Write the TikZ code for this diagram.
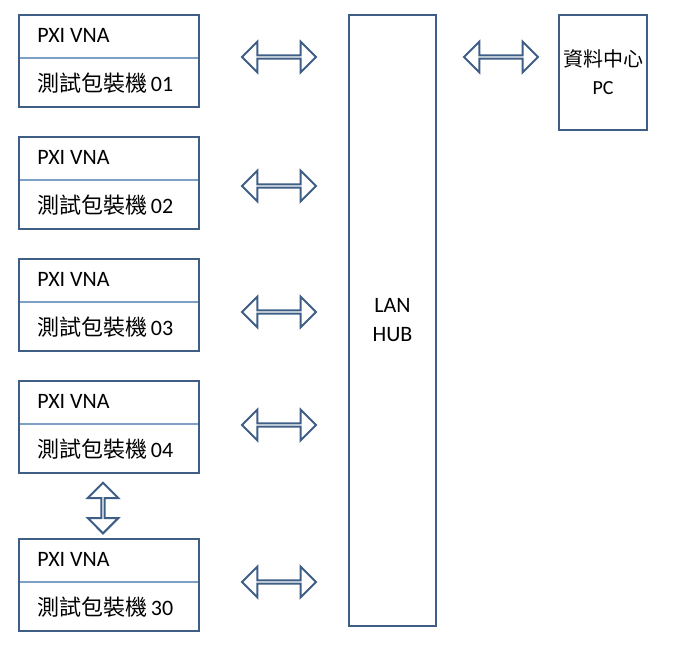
\documentclass[tikz,border=0pt]{standalone}
\usepackage{fontspec}
\setmainfont{Carlito}
\newfontfamily\cjk{Noto Sans CJK TC}
\usetikzlibrary{shapes.arrows}
\definecolor{bd}{HTML}{3E5E86}
\definecolor{dv}{HTML}{7EA0C8}
\begin{document}
\begin{tikzpicture}[x=0.75pt,y=-0.75pt,
  box/.style={draw=bd,line width=1.6pt,fill=white},
  lbl/.style={anchor=west,font=\fontsize{16.5}{18}\selectfont,inner sep=0},
  dar/.style={double arrow,draw=bd,line width=1.5pt,fill=white,inner sep=0,
    minimum height=55.5pt,minimum width=23pt,double arrow head extend=6.5pt,double arrow head indent=0pt}]
\useasboundingbox (0,0) rectangle (690,653);
\foreach \t/\n/\k in {15/01/a,137/02/b,259/03/c,381/04/d,539/30/e}{
  \draw[box] (19,\t) rectangle (199,\t+92);
  \draw[dv,line width=0.8pt] (20,\t+43) -- (198,\t+43);
  \node[lbl] (p\k) at (37,\t+20) {PXI VNA};
  \node[lbl] (m\k) at (37,\t+68) {{\cjk 測試包裝機}\,\n};
}
\draw[box] (349,15) rectangle (436,626);
\node[align=center,font=\fontsize{16.5}{22}\selectfont] (hub) at (392.5,320) {LAN\\HUB};
\draw[box] (559,15) rectangle (647,130);
\node[align=center,font=\fontsize{15}{21}\selectfont] (pc) at (603,72) {{\cjk 資料中心}\\PC};
\foreach \y/\k in {57/a,186/b,312/c,425/d,582/e}
  \node[dar] (ar\k) at (279,\y) {};
\node[dar] (arpc) at (501,57) {};
\node[dar,rotate=90,minimum height=38pt] (arv) at (103,508) {};
\end{tikzpicture}
\end{document}
